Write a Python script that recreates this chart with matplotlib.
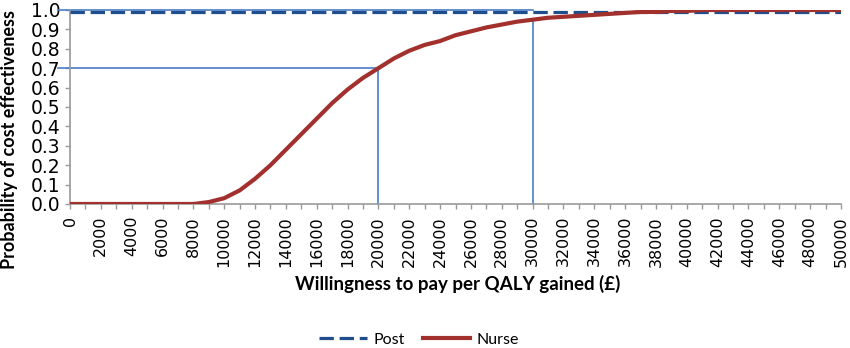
import numpy as np
import matplotlib.pyplot as plt
from matplotlib.ticker import MultipleLocator

# willingness-to-pay thresholds (GBP per QALY)
wtp = list(range(0, 50001, 1000))

# probability of cost effectiveness per strategy
post = [0.99] * len(wtp)
nurse = [
    0.0, 0.0, 0.0, 0.0, 0.0, 0.0, 0.0, 0.0, 0.0, 0.01,
    0.03, 0.07, 0.13, 0.20, 0.28, 0.36, 0.44, 0.52, 0.59, 0.65,
    0.70, 0.75, 0.79, 0.82, 0.84, 0.87, 0.89, 0.91, 0.925, 0.94,
    0.95, 0.96, 0.965, 0.97, 0.975, 0.98, 0.985, 0.99, 0.99, 0.995,
    0.995, 1.0, 1.0, 1.0, 1.0, 1.0, 1.0, 1.0, 1.0, 1.0,
    1.0,
]

# reference thresholds drawn as guide lines
thresholds = [20000, 30000]
threshold_probs = [0.70, 0.95]
post_at_30k = 1.0

fig = plt.figure(figsize=(8.5, 3.48), dpi=100)
ax = fig.add_axes([70 / 850, 1 - 204 / 348, 771 / 850, 194 / 348])

guide = dict(color="#4a7ec7", lw=1.2, clip_on=False, zorder=2)
ax.plot([-800, thresholds[0]], [threshold_probs[0]] * 2, **guide)
ax.plot([thresholds[0]] * 2, [0, threshold_probs[0]], **guide)
ax.plot([thresholds[1]] * 2, [0, threshold_probs[1]], **guide)
ax.plot([-800, thresholds[1]], [post_at_30k] * 2, **guide)

ax.plot(wtp, post, color="#1f4e8c", lw=2.3, ls=(0, (4.5, 1.8)), label="Post", zorder=3)
ax.plot(wtp, nurse, color="#a2302d", lw=3.0, label="Nurse", zorder=4)

ax.set_xlim(0, 50000)
ax.set_ylim(0, 1.0)
ax.xaxis.set_minor_locator(MultipleLocator(1000))
yt = np.round(np.arange(0, 1.01, 0.1), 1)
ax.set_yticks(yt)
ax.set_yticklabels([f"{v:.1f}" for v in yt], fontsize=13.5)
ax.set_xticks(range(0, 50001, 2000))
ax.set_xticklabels([str(v) for v in range(0, 50001, 2000)], rotation=90, fontsize=11.5)

for side in ["top", "right"]:
    ax.spines[side].set_visible(False)
for side in ["left", "bottom"]:
    ax.spines[side].set_color("#9a9a9a")
    ax.spines[side].set_linewidth(1.2)
ax.tick_params(axis="both", which="both", direction="out", color="#9a9a9a",
               length=3.6, width=1.0)
ax.tick_params(axis="x", pad=5)
ax.tick_params(axis="y", pad=3)
ax.tick_params(axis="y", which="minor", left=False)

ax.set_xlabel("Willingness to pay per QALY gained (£)", family="Lato",
              fontweight="bold", fontsize=13.5)
ax.xaxis.set_label_coords(0.503, -0.363)
ax.set_ylabel("Probability of cost effectiveness", family="Lato",
              fontweight="bold", fontsize=13)
ax.yaxis.set_label_coords(-0.068, 0.33)

ax.legend(loc="center", bbox_to_anchor=(0.453, -0.7), ncol=2, frameon=False,
          prop={"family": "Lato", "size": 11.5}, handlelength=3.0, columnspacing=1.1,
          handletextpad=0.4)

fig.savefig("out.png", dpi=100)
